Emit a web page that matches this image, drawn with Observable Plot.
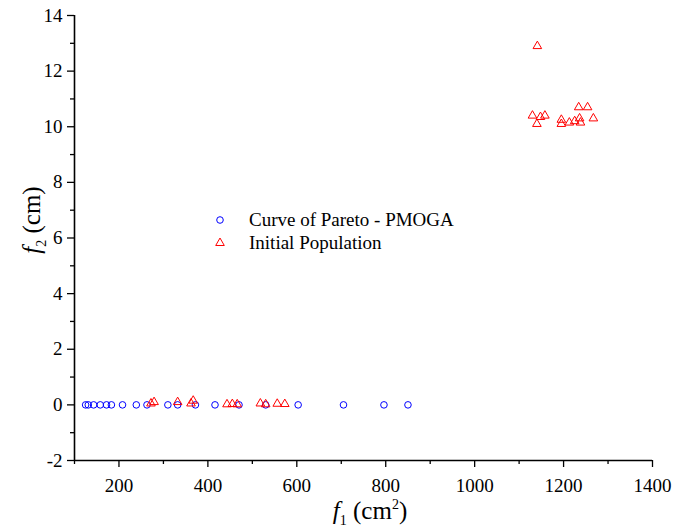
<!DOCTYPE html>
<html><head><meta charset="utf-8">
<script src="https://cdn.jsdelivr.net/npm/d3@7"></script>
<script src="https://cdn.jsdelivr.net/npm/@observablehq/plot@0.6"></script>
<style>
body{margin:0;background:#fff;}
#wrap{position:relative;width:674px;height:529px;font-family:"Liberation Serif",serif;color:#000;}
#wrap svg text{font-family:"Liberation Serif",serif;}
.lab{position:absolute;font-family:"Liberation Serif",serif;font-size:25px;white-space:nowrap;line-height:1;}
.lab sub{font-size:14px;vertical-align:-6px;}
.lab sup{font-size:14px;vertical-align:10px;}
#legend{position:absolute;left:212px;top:208px;font-family:"Liberation Serif",serif;font-size:19px;line-height:23px;}
#legend div{display:flex;align-items:center;}
#legend svg{width:16px;height:16px;margin-right:21px;}
</style></head><body><div id="wrap"></div>
<script>
const seriesNames = ["Curve of Pareto - PMOGA", "Initial Population"];
const paretoF1 = [125, 131, 143, 158, 172, 183, 208, 239, 263, 310, 332, 372, 416, 470, 530, 603, 705, 796, 850];
const paretoF2 = [0, 0, 0, 0, 0, 0, 0, 0, 0, 0, 0, 0, 0, 0, 0, 0, 0, 0, 0];
const initF1 = [272, 279, 332, 362, 367, 443, 455, 466, 518, 530, 556, 573,
                1130, 1140, 1141, 1148, 1158, 1195, 1195, 1213, 1225, 1234, 1236, 1238, 1254, 1267];
const initF2 = [0.05, 0.1, 0.1, 0.05, 0.15, 0.02, 0.03, 0.02, 0.05, 0.02, 0.04, 0.03,
                10.4, 10.1, 12.9, 10.35, 10.4, 10.25, 10.1, 10.15, 10.2, 10.7, 10.3, 10.15, 10.7, 10.3];
const xTicks = [200, 400, 600, 800, 1000, 1200, 1400];
const xMinor = [100, 300, 500, 700, 900, 1100, 1300];
const yTicks = [-2, 0, 2, 4, 6, 8, 10, 12, 14];
const yMinor = [-1, 1, 3, 5, 7, 9, 11, 13];

const pareto = paretoF1.map((x, i) => ({x, y: paretoF2[i]}));
const initial = initF1.map((x, i) => ({x, y: initF2[i]}));

const font = '"Liberation Serif", serif';
const fmt = d => String(d);
const chart = Plot.plot({
  width: 674, height: 529,
  marginLeft: 74, marginRight: 22, marginTop: 15, marginBottom: 69,
  style: {fontFamily: font, fontSize: "19px", color: "#000", background: "#fff"},
  x: {domain: [100, 1400]},
  y: {domain: [-2, 14]},
  marks: [
    Plot.axisX(xTicks, {tickSize: 7, tickPadding: 11, strokeWidth: 1.3, label: null, tickFormat: fmt, fontSize: 19, fontFamily: font}),
    Plot.axisX(xMinor, {tickSize: 4, text: null, strokeWidth: 1.3, label: null}),
    Plot.axisY(yTicks, {tickSize: 7, tickPadding: 5, strokeWidth: 1.3, label: null, tickFormat: fmt, fontSize: 19, fontFamily: font}),
    Plot.axisY(yMinor, {tickSize: 4, text: null, strokeWidth: 1.3, label: null}),
    Plot.ruleX([100], {stroke: "#000", strokeWidth: 1.6}),
    Plot.ruleY([-2], {stroke: "#000", strokeWidth: 1.6}),
    Plot.dot(pareto, {x: "x", y: "y", r: 3.3, stroke: "#0000ff", strokeWidth: 1, fill: "none"}),
    Plot.dot(initial, {x: "x", y: "y", r: 3.2, symbol: "triangle", stroke: "#ff0000", strokeWidth: 1, fill: "none"})
  ]
});

const wrap = document.getElementById("wrap");
wrap.appendChild(chart);

const ylab = document.createElement("div");
ylab.className = "lab";
ylab.innerHTML = '<i>f</i><sub>2</sub> (cm)';
ylab.style.left = "34px"; ylab.style.top = "220px";
ylab.style.transform = "translate(-50%,-50%) rotate(-90deg)";
wrap.appendChild(ylab);

const xlab = document.createElement("div");
xlab.className = "lab";
xlab.innerHTML = '<i>f</i><sub>1</sub> (cm<sup>2</sup>)';
xlab.style.left = "370px"; xlab.style.top = "513px";
xlab.style.transform = "translate(-50%,-50%)";
wrap.appendChild(xlab);

const legend = document.createElement("div");
legend.id = "legend";
const sym = [
  '<svg viewBox="-8 -8 16 16"><circle r="3.3" fill="none" stroke="#0000ff" stroke-width="1"/></svg>',
  '<svg viewBox="-8 -8 16 16"><path d="' + d3.symbol(d3.symbolTriangle, 3.2*3.2*Math.PI)() + '" fill="none" stroke="#ff0000" stroke-width="1"/></svg>'
];
seriesNames.forEach((n, i) => {
  const row = document.createElement("div");
  row.innerHTML = sym[i] + '<span>' + n + '</span>';
  legend.appendChild(row);
});
wrap.appendChild(legend);
</script>
</body></html>
